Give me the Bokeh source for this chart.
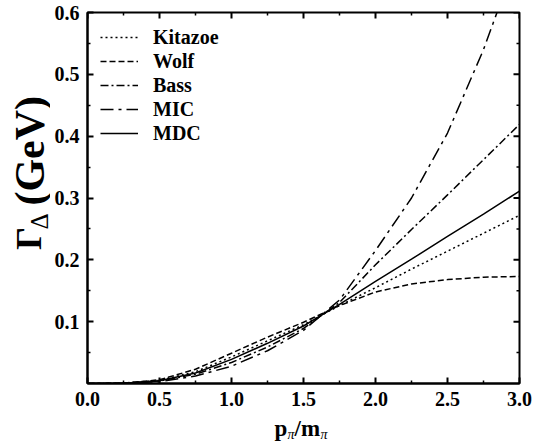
import math
from bokeh.plotting import figure
from bokeh.layouts import row, column
from bokeh.models import (Range1d, LinearAxis, FixedTicker, Legend, LegendItem,
                          PrintfTickFormatter)
from bokeh.core.properties import value
from bokeh.embed import file_html
from bokeh.resources import INLINE

# ---- data ----
x_vals = [0.0, 0.25, 0.5, 0.75, 1.0, 1.25, 1.5, 1.75, 2.0, 2.25, 2.5, 2.75, 3.0]
kitazoe = [0.0, 0.0005, 0.005, 0.019, 0.043, 0.069, 0.095, 0.126, 0.155, 0.185, 0.214, 0.243, 0.272]
wolf = [0.0, 0.0006, 0.006, 0.023, 0.049, 0.075, 0.099, 0.126, 0.148, 0.161, 0.168, 0.172, 0.173]
bass = [0.0, 0.0004, 0.004, 0.015, 0.034, 0.059, 0.089, 0.131, 0.192, 0.249, 0.305, 0.362, 0.419]
mic = [0.0, 0.0003, 0.003, 0.012, 0.028, 0.053, 0.086, 0.135, 0.215, 0.30, 0.405, 0.54, 0.70]
mdc = [0.0, 0.0005, 0.0045, 0.017, 0.039, 0.065, 0.093, 0.128, 0.165, 0.201, 0.238, 0.274, 0.311]

series_names = ["Kitazoe", "Wolf", "Bass", "MIC", "MDC"]
x_ticks = [0.0, 0.5, 1.0, 1.5, 2.0, 2.5, 3.0]
x_minor = [0.25, 0.75, 1.25, 1.75, 2.25, 2.75]
y_ticks = [0.1, 0.2, 0.3, 0.4, 0.5, 0.6]
y_minor = [0.05, 0.15, 0.25, 0.35, 0.45, 0.55]

FONT = "Liberation Serif"
X0, X1, Y0, Y1 = 0.0, 3.0, 0.0, 0.6
FRAME_W, FRAME_H = 432, 371
DX = (X1 - X0) / FRAME_W   # data per pixel
DY = (Y1 - Y0) / FRAME_H

# ---------------- main plot ----------------
p = figure(width=494, height=417, output_backend="svg", toolbar_location=None,
           x_range=Range1d(X0, X1), y_range=Range1d(Y0, Y1),
           min_border_left=37, min_border_right=25, min_border_top=12, min_border_bottom=34,
           x_axis_location=None, y_axis_location=None, title_location=None)
p.grid.visible = False
p.outline_line_color = "black"
p.outline_line_width = 2
p.background_fill_color = "white"
p.border_fill_color = "white"

def style_axis(ax, ticks, minor):
    ax.ticker = FixedTicker(ticks=ticks, minor_ticks=minor)
    ax.formatter = PrintfTickFormatter(format="%.1f")
    ax.axis_line_width = 2
    ax.axis_line_color = "black"
    ax.major_tick_in = 6
    ax.major_tick_out = 0
    ax.minor_tick_in = 3
    ax.minor_tick_out = 0
    ax.major_tick_line_width = 2
    ax.minor_tick_line_width = 1.5
    ax.major_label_text_font = FONT
    ax.major_label_text_font_style = "bold"
    ax.major_label_text_color = "black"
    ax.major_label_text_font_size = "20px"
    ax.major_label_standoff = 8

xb = LinearAxis(); style_axis(xb, x_ticks, x_minor)
yl = LinearAxis(); style_axis(yl, y_ticks, y_minor)
p.add_layout(xb, "below")
p.add_layout(yl, "left")

# inward ticks on the top and right frame edges (from the tick lists)
p.segment(x0=x_ticks, y0=[Y1] * len(x_ticks), x1=x_ticks, y1=[Y1 - 6 * DY] * len(x_ticks),
          line_color="black", line_width=2)
p.segment(x0=x_minor, y0=[Y1] * len(x_minor), x1=x_minor, y1=[Y1 - 3 * DY] * len(x_minor),
          line_color="black", line_width=1.5)
p.segment(x0=[X1] * len(y_ticks), y0=y_ticks, x1=[X1 - 6 * DX] * len(y_ticks), y1=y_ticks,
          line_color="black", line_width=2)
p.segment(x0=[X1] * len(y_minor), y0=y_minor, x1=[X1 - 3 * DX] * len(y_minor), y1=y_minor,
          line_color="black", line_width=1.5)

dashes = {"Kitazoe": "2 3", "Wolf": "6 3", "Bass": "8 3 2 3", "MIC": "13 5 3 5", "MDC": "solid"}
data = {"Kitazoe": kitazoe, "Wolf": wolf, "Bass": bass, "MIC": mic, "MDC": mdc}
items = []
for name in series_names:
    r = p.line(x_vals, data[name], line_color="black", line_width=1.5, line_dash=dashes[name])
    items.append(LegendItem(label=name, renderers=[r]))

legend = Legend(items=items, location="top_left", margin=5, padding=8,
                glyph_width=38, glyph_height=24, label_height=24, spacing=0,
                label_standoff=15, border_line_alpha=0, background_fill_alpha=0,
                label_text_font=FONT, label_text_font_style="bold",
                label_text_font_size="20px", label_text_color="black")
p.add_layout(legend, "center")

# ---------------- y title strip (pixel coordinates, y up) ----------------
YW, YH = 50, 417
yt = figure(width=YW, height=YH, output_backend="svg", toolbar_location=None,
            x_range=Range1d(0, YW), y_range=Range1d(0, YH),
            min_border=0, min_border_left=0, min_border_right=0, min_border_top=0,
            min_border_bottom=0, x_axis_location=None, y_axis_location=None,
            title_location=None)
yt.grid.visible = False
yt.outline_line_color = None
yt.background_fill_color = "white"
yt.border_fill_color = "white"

def ty(py):
    return YH - py

yt.text(x=[28.5], y=[ty(267)], text=["Γ"], angle=math.pi / 2,
        text_font=value(FONT), text_font_style="bold", text_font_size=value("36px"),
        text_align="left", text_baseline="middle", text_color="black")
yt.text(x=[38.5], y=[ty(244)], text=["Δ"], angle=math.pi / 2,
        text_font=value(FONT), text_font_style="normal", text_font_size=value("25px"),
        text_align="left", text_baseline="middle", text_color="black")
yt.text(x=[29.5], y=[ty(217)], text=["(GeV)"], angle=math.pi / 2,
        text_font=value(FONT), text_font_style="bold", text_font_size=value("42px"),
        text_align="left", text_baseline="middle", text_color="black")

# ---------------- x title strip ----------------
XW, XH = 544, 30
xt = figure(width=XW, height=XH, output_backend="svg", toolbar_location=None,
            x_range=Range1d(0, XW), y_range=Range1d(0, XH),
            min_border=0, min_border_left=0, min_border_right=0, min_border_top=0,
            min_border_bottom=0, x_axis_location=None, y_axis_location=None,
            title_location=None)
xt.grid.visible = False
xt.outline_line_color = None
xt.background_fill_color = "white"
xt.border_fill_color = "white"

def tx_y(py):
    return XH - (py - 417)

xt.text(x=[274, 294], y=[tx_y(428)] * 2, text=["p", "/m"],
        text_font=value(FONT), text_font_style="bold", text_font_size=value("23px"),
        text_align="left", text_baseline="middle", text_color="black")
xt.text(x=[287, 320], y=[tx_y(434)] * 2, text=["π", "π"],
        text_font=value(FONT), text_font_style="italic", text_font_size=value("14px"),
        text_align="left", text_baseline="middle", text_color="black")

layout = column(row(yt, p, spacing=0), xt, spacing=0)
open("out.html", "w").write(file_html(layout, INLINE))
